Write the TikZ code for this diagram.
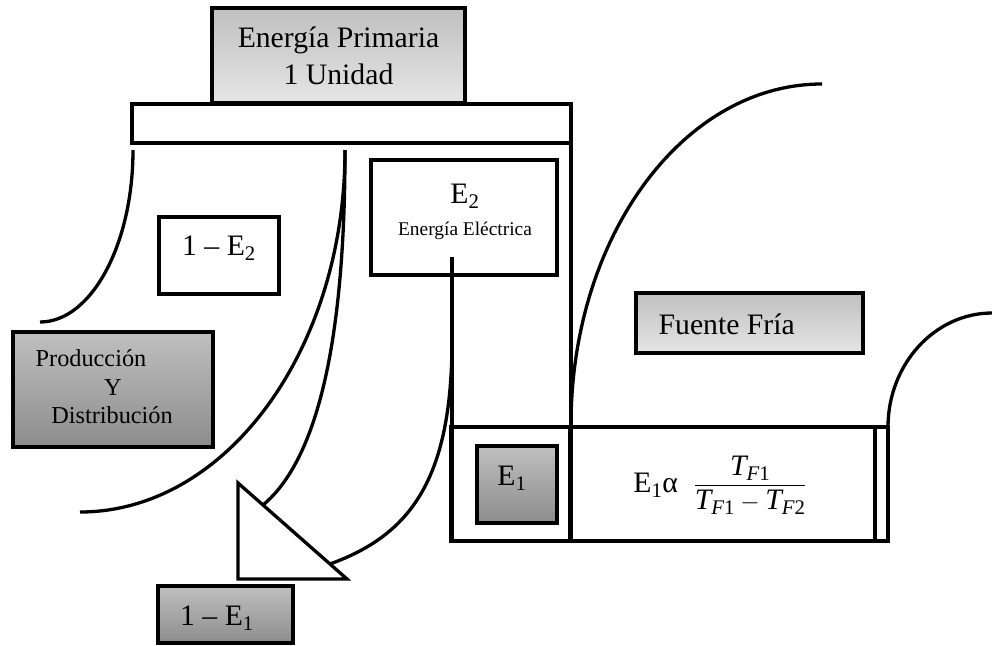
\documentclass[tikz,border=0pt]{standalone}
\usepackage{amsmath}
\usepackage{fontspec}
\setmainfont{Liberation Serif}
\usetikzlibrary{calc}

\begin{document}
\begin{tikzpicture}[x=1pt, y=-1pt, line width=3.3pt,
  caja/.style={draw, line width=3.3pt, inner sep=0pt},
  clara/.style={caja, top color=black!25, bottom color=black!10},
  oscura/.style={caja, top color=black!25, bottom color=black!45},
  grande/.style={font=\fontsize{29.7}{37}\selectfont},
  media/.style={font=\fontsize{24.3}{28}\selectfont},
  chica/.style={font=\fontsize{19.4}{23}\selectfont},
]
  \useasboundingbox (0,0) rectangle (992,645);
  % extremos de las curvas
  \coordinate (A1) at (133,150);
  \coordinate (A2) at (40,322);
  \coordinate (B1) at (345,150);
  \coordinate (B2) at (80,512);
  \coordinate (C2) at (263,505);
  \coordinate (D0) at (452,257);
  \coordinate (D1) at (452,340);
  \coordinate (D2) at (330,564);
  \coordinate (F1) at (571,425);
  \coordinate (F2) at (822,84);
  \coordinate (G1) at (888,427);
  \coordinate (G2) at (992,313);

  % barra superior y fila inferior
  \draw (132,104) rectangle (571,143);
  \draw (571,104) -- (571,541);
  \foreach \xa/\xb in {451/570, 570/875, 875/888}
    \draw (\xa,427) rectangle (\xb,541);
  \draw (D0) -- (452,541);

  % curvas
  \draw (A1) .. controls (133,245) and (91,322) .. (A2);
  \draw (B1) .. controls (345,350) and (226,512) .. (B2);
  \draw (B1) .. controls (345,380) and (305,470) .. (C2);
  \draw (D1) .. controls (452,480) and (410,535) .. (D2);
  \draw (F1) .. controls (571,237) and (683,84) .. (F2);
  \draw (888,520) -- (G1) .. controls (888,364) and (935,313) .. (G2);
  \draw[fill=white] (238,483) -- (238,579) -- (347,579) -- cycle;

  % cajas
  \node[clara, grande, align=center, minimum width=253pt, minimum height=95pt]
    (prim) at (338.5,55.5) {Energía Primaria\\1 Unidad};
  \node[caja, minimum width=120pt, minimum height=77pt] (unoEdos) at (219,255.5) {};
  \node[caja, minimum width=186pt, minimum height=115pt] (edos) at (464,217.5) {};
  \draw (D0) -- (452,275);
  \node[oscura, minimum width=200pt, minimum height=115pt] (prod) at (113,389.5) {};
  \node[oscura, minimum width=135pt, minimum height=57pt] (unoEuno) at (225.5,614.5) {};
  \node[clara, minimum width=227pt, minimum height=60pt] (fria) at (749.5,323) {};
  \node[oscura, minimum width=80pt, minimum height=77pt] (euno) at (517,484.5) {};

  % textos
  \node[grande] (tunoEdos) at (219,248) {1 – E\textsubscript{2}};
  \node[grande] (tedos) at (465,196) {E\textsubscript{2}};
  \node[chica] (telec) at (465,231) {Energía Eléctrica};
  \node[media, anchor=west, inner sep=0pt] (tprod) at (34,358) {Producción};
  \node[media] (ty) at (113,387.5) {Y};
  \node[media] (tdist) at (112,415.5) {Distribución};
  \node[grande] (tunoEuno) at (217,618) {1 – E\textsubscript{1}};
  \node[grande] (teuno) at (512,478) {E\textsubscript{1}};
  \node[grande, anchor=west, inner sep=0pt] (tfria) at (657,324) {Fuente Fría};
  \node[grande] (tformula) at (720,485)
    {E\textsubscript{1}α\; $\dfrac{\textit{T}_{\textit{F}\text{1}}}
      {\textit{T}_{\textit{F}\text{1}}-\textit{T}_{\textit{F}\text{2}}}$};
\end{tikzpicture}
\end{document}
